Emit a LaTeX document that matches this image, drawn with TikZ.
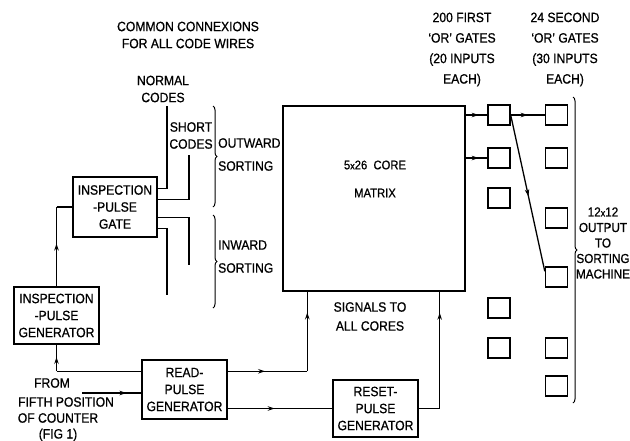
\documentclass[tikz,border=0pt]{standalone}
\usepackage{fontspec}
\setmainfont{Liberation Sans}[FakeStretch=0.9,FakeBold=0.8]
\usetikzlibrary{arrows.meta,decorations.pathreplacing,decorations.markings,calc}
\begin{document}
\begin{tikzpicture}[x=1pt,y=-1pt,
  every node/.style={font=\fontsize{13.5}{17}\selectfont, inner sep=0pt},
  wire/.style={line width=1.3pt},
  box/.style={draw, line width=1.4pt, align=center},
  sq/.style={draw, line width=1.4pt, minimum width=22pt, minimum height=20pt},
  lbl/.style={align=center},
  small/.style={font=\fontsize{12.5}{14}\selectfont},
  arrowat/.style={postaction={decorate}, decoration={markings, mark=at position #1 with {\arrow{Stealth[length=7pt,width=4.5pt]}}}},
  arrowat/.default=0.5,
  brc/.style={decorate, decoration={brace, amplitude=4pt}, line width=1pt}
]
\useasboundingbox (0,0) rectangle (630,440);

% main blocks
\node[box, minimum width=182pt, minimum height=185pt] (mx) at (374,198.5) {};
\node[small] (mxa) at (375,165) {5{\fontsize{10}{10}\selectfont x}26\ \ CORE};
\node[small] (mxb) at (375,193) {MATRIX};

\node[box, minimum width=84pt, minimum height=60pt] (gate) at (115,207) {INSPECTION\\-PULSE\\GATE};
\node[box, minimum width=85pt, minimum height=57pt] (ig) at (56.5,315.5) {INSPECTION\\-PULSE\\GENERATOR};
\node[box, minimum width=85pt, minimum height=59pt] (rd) at (184.5,389.5) {READ-\\PULSE\\GENERATOR};
\node[box, minimum width=85pt, minimum height=57pt] (rs) at (375.5,408.5) {RESET-\\PULSE\\GENERATOR};

% OR gates
\node[sq] (f1) at (499,115) {};
\node[sq] (f2) at (499,158) {};
\node[sq] (f3) at (499,198) {};
\node[sq] (f4) at (499,308) {};
\node[sq] (f5) at (499,348) {};
\node[sq] (s1) at (556.5,115) {};
\node[sq] (s2) at (556.5,158) {};
\node[sq] (s3) at (556.5,218) {};
\node[sq] (s4) at (556.5,277) {};
\node[sq] (s5) at (556.5,348) {};
\node[sq] (s6) at (556.5,386) {};

% labels
\node[lbl] (t1) at (188,35) {COMMON CONNEXIONS\\FOR ALL CODE WIRES};
\node[lbl] (t2) at (163,89) {NORMAL\\CODES};
\node[lbl] (t3) at (191,135.5) {SHORT\\CODES};
\node[anchor=west] (t4) at (218,143) {OUTWARD};
\node[anchor=west] (t5) at (218,166) {SORTING};
\node[anchor=west] (t6) at (218,245) {INWARD};
\node[anchor=west] (t7) at (218,268) {SORTING};
\node[lbl, font=\fontsize{13.5}{20.5}\selectfont] (t8) at (462,49.5) {200 FIRST\\`OR' GATES\\(20 INPUTS\\EACH)};
\node[lbl, font=\fontsize{13.5}{20.5}\selectfont] (t9) at (565,49.5) {24 SECOND\\`OR' GATES\\(30 INPUTS\\EACH)};
\node[lbl, font=\fontsize{13}{15.5}\selectfont] (t10) at (603,243) {12{\fontsize{10}{10}\selectfont x}12\\OUTPUT\\TO\\SORTING\\MACHINE};
\node[lbl, font=\fontsize{13.5}{19}\selectfont] (t11) at (370,316.5) {SIGNALS TO\\ALL CORES};
\node (t12) at (52,383) {FROM};
\node (t13) at (66,402) {FIFTH POSITION};
\node (t14) at (58,418) {OF COUNTER};
\node (t15) at (58,435) {(FIG 1)};

% code wires from gate
\coordinate (n1) at (167,106);
\coordinate (n2) at (189,155);
\coordinate (n3) at (189,265);
\coordinate (n4) at (167,295);
\draw[wire] ($(gate.north east)+(0,12)$) -| (n1);
\draw[wire] ($(gate.north east)+(0,23)$) -| (n2);
\draw[wire] ($(gate.south east)+(0,-20)$) -| (n3);
\draw[wire] ($(gate.south east)+(0,-9)$) -| (n4);

% braces
\draw[brc] (213,106) -- (213,207);
\draw[brc] (213,215) -- (213,308);
\draw[brc] (573,97) -- (573,403);

% inspection pulse generator -> gate
\draw[wire, arrowat=0.54] (ig.north) -- (ig.north |- gate.west);
\draw[wire] (ig.north |- gate.west) -- (gate.west);

% read pulse generator connections
\coordinate (k1) at ($(rd.north east)+(0,12)$);
\coordinate (k2) at ($(mx.south west)+(25,0)$);
\coordinate (k3) at ($(mx.south east)+(-26,0)$);
\coordinate (src) at (82,393);
\draw[wire, arrowat=0.75] (src) -- (rd.west |- src);
\draw[wire] (rd.west |- k1) -- (ig.south |- k1);
\draw[wire, arrowat=0.54] (ig.south |- k1) -- (ig.south);
\draw[wire, arrowat=0.47] (k1) -- (k1 -| k2);
\draw[wire, arrowat=0.74] (k1 -| k2) -- (k2);
\draw[wire, arrowat=0.45] (rd.east |- rs.west) -- (rs.west);
\draw[wire] (rs.east) -- (rs.east -| k3);
\draw[wire, arrowat=0.82] (rs.east -| k3) -- (k3);

% matrix -> gates
\draw[wire, arrowat=0.6] (mx.east |- f1) -- (f1.west);
\draw[wire, arrowat=0.6] (mx.east |- f2) -- (f2.west);
\draw[wire, arrowat=0.5] (f1.east) -- (s1.west);
\draw[wire, arrowat=0.52] (f1.east) -- ($(s4.north west)+(0,5)$);
\end{tikzpicture}
\end{document}
